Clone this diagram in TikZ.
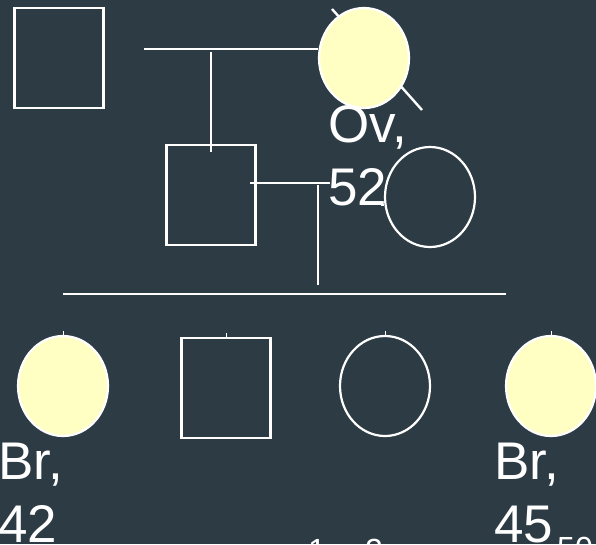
\documentclass[tikz,border=0pt]{standalone}
\usepackage{fontspec}
\setmainfont{Liberation Sans}
\usetikzlibrary{shapes.geometric}
\definecolor{SlideBg}{RGB}{45,60,68}
\definecolor{Affected}{RGB}{255,255,196}

\begin{document}
\begin{tikzpicture}[x=1pt, y=-1pt,
    male/.style={rectangle, draw=white, line width=2.2pt, minimum width=89pt,
                 minimum height=100pt, inner sep=0pt},
    female/.style={ellipse, draw=white, line width=2.2pt, minimum width=90pt,
                   minimum height=100pt, inner sep=0pt},
    hit/.style={fill=Affected},
    ln/.style={draw=white, line width=2.4pt},
    lbl/.style={text=white, font=\fontsize{53}{63}\selectfont, align=left,
                anchor=north west, inner sep=0pt},
    sml/.style={text=white, font=\fontsize{32}{38}\selectfont,
                anchor=north west, inner sep=0pt}
  ]
  \useasboundingbox (0,0) rectangle (596,544);
  \clip (0,0) rectangle (596,544);
  \fill[SlideBg] (0,0) rectangle (596,544);

  % first generation
  \coordinate (gmc) at (364,58);
  \draw[ln] ([shift={(-32,-49)}]gmc) -- ([shift={(58,52)}]gmc);
  \node[male]        (gf) at (59,58) {};
  \node[female, hit] (gm) at (gmc) {};

  % second generation
  \node[male]   (fa) at (211,195) {};
  \node[female] (mo) at (430,197) {};

  \coordinate (m1) at (144,49);
  \coordinate (m2) at (250,183);
  \coordinate (m3) at (381,205);
  \coordinate (d2) at (318,185);
  \draw[ln] (m1) -- (m1 -| gm.west);
  \draw[ln] (m1 -| fa) ++(0,3) -- ([yshift=-8pt]fa.north);
  \draw[ln] (m2) -- ++(80,0);
  \draw[ln] (m3) -- (m3 -| mo.west);
  \draw[ln] (d2) -- ++(0,100);

  % sibship
  \coordinate (s1) at (63,294);
  \coordinate (s2) at (506,294);
  \draw[ln] (s1) -- (s2);

  \node[female, hit] (c1) at (63,386)  {};
  \node[male]        (c2) at (226,388) {};
  \node[female]      (c3) at (385,386) {};
  \node[female, hit] (c4) at (551,386) {};
  \foreach \c in {c1,c2,c3,c4}
    \draw[draw=white, line width=1pt] (\c.north) -- ++(0,-4);

  % labels
  \node[lbl] (lgm) at (328,105) {Ov,\\52};
  \node[lbl] (lc1) at (-2,443)  {Br,\\42};
  \node[lbl] (lc4) at (494,443) {Br,\\45};
  \node[sml] (nc4) at (557,537) {50};
  \node[sml] (na)  at (308,539) {1};
  \node[sml] (nb)  at (365,539) {2};
\end{tikzpicture}
\end{document}
